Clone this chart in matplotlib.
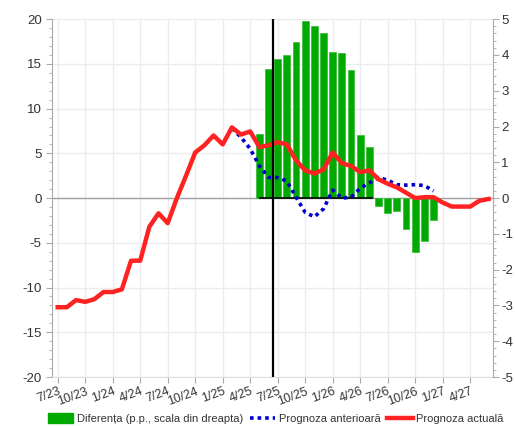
import matplotlib
matplotlib.use("Agg")
import matplotlib.pyplot as plt
from matplotlib.ticker import MultipleLocator
from matplotlib.patches import Patch
from matplotlib.lines import Line2D
import numpy as np

plt.rcParams['font.family'] = ['Liberation Sans', 'DejaVu Sans']
plt.rcParams['axes.unicode_minus'] = False

# Monthly series, month 0 = July 2023
quarter_labels = ['7/23', '10/23', '1/24', '4/24', '7/24', '10/24', '1/25', '4/25',
                  '7/25', '10/25', '1/26', '4/26', '7/26', '10/26', '1/27', '4/27']

current_forecast = [-12.2, -12.2, -11.4, -11.6, -11.3, -10.5, -10.5, -10.2, -7.0, -7.0,
                    -3.2, -1.7, -2.8, 0.0, 2.5, 5.1, 5.9, 7.0, 6.0, 7.9,
                    7.1, 7.45, 5.7, 5.9, 6.25, 6.0, 4.2, 3.1, 2.75, 3.2,
                    5.1, 3.9, 3.6, 2.9, 3.1, 2.1, 1.6, 1.2, 0.6, 0.0,
                    0.1, 0.1, -0.5, -0.95, -0.95, -0.95, -0.3, -0.1]

previous_start = 19
previous_forecast = [7.8, 6.8, 5.5, 3.6, 2.3, 2.3, 1.9, 0.1, -1.6, -2.1,
                     -1.2, 0.9, 0.0, 0.1, 1.1, 1.7, 2.3, 2.0, 1.5, 1.45,
                     1.5, 1.4, 0.8]

diff_start = 22
difference = [1.78, 3.6, 3.88, 4.0, 4.36, 4.94, 4.81, 4.6, 4.07, 4.05,
              3.57, 1.75, 1.43, -0.23, -0.43, -0.36, -0.87, -1.5, -1.21, -0.62]

current_month = 23.45

months_cur = np.arange(len(current_forecast))
months_prev = previous_start + np.arange(len(previous_forecast))
months_diff = diff_start + np.arange(len(difference))

GREEN = '#00aa00'
RED = '#ff2222'
BLUE = '#0000cc'
GRID = '#ececec'
AXCOL = '#aaaaaa'
TXT = '#333333'
XLIM = (-0.62, 47.47)
YLIM = (-20, 20)

fig = plt.figure(figsize=(5.15, 4.26), dpi=100)
# host axes: grid, zero line and left scale
ax = fig.add_axes([0.101, 0.115, 0.856, 0.840])
ax.set_xlim(*XLIM)
ax.set_ylim(*YLIM)
ax.yaxis.set_major_locator(MultipleLocator(5))
ax.yaxis.set_minor_locator(MultipleLocator(1))
ax.set_xticks(np.arange(len(quarter_labels)) * 3)
ax.set_xticklabels(quarter_labels, rotation=20, ha='right', rotation_mode='anchor')
ax.grid(True, color=GRID, linewidth=1.0, zorder=0)
ax.set_axisbelow(True)
ax.axhline(0, color='#a0a0a0', linewidth=1.0, zorder=1)

# right scale: difference bars
ax2 = ax.twinx()
ax2.set_ylim(-5, 5)
ax2.yaxis.set_major_locator(MultipleLocator(1))
ax2.yaxis.set_minor_locator(MultipleLocator(0.2))
bar_w = 0.74
ax2.bar(months_diff, difference, width=bar_w, color=GREEN, edgecolor='#33bb33',
        linewidth=0.5, zorder=2)
pos = [m for m, v in zip(months_diff, difference) if v > 0]
ax2.hlines(0, pos[0], pos[-1] + bar_w / 2, color='black', linewidth=1.2, zorder=3)

# overlay on the left scale: forecast lines above the bars
ax3 = ax.twinx()
ax3.set_ylim(*YLIM)
ax3.set_xlim(*XLIM)
ax3.axis('off')
ax3.plot(months_prev, previous_forecast, color=BLUE, linewidth=2.6,
         linestyle=(0, (1, 1.1)), dash_capstyle='butt', zorder=4)
ax3.plot(months_cur, current_forecast, color=RED, linewidth=3.2, zorder=5,
         solid_joinstyle='round')
ax3.axvline(current_month, color='black', linewidth=1.6, zorder=6)

for a in (ax, ax2):
    for s in a.spines.values():
        s.set_color(AXCOL)
    a.spines['top'].set_visible(False)
    a.tick_params(axis='both', which='major', length=4, color=AXCOL,
                  labelcolor=TXT, labelsize=9.5)
    a.tick_params(axis='both', which='minor', length=2.5, color=AXCOL)
ax.spines['bottom'].set_color('#dddddd')
ax2.spines['bottom'].set_visible(False)
ax.tick_params(axis='x', labelsize=9, pad=2)
ax2.tick_params(axis='y', pad=2)
ax2.spines['left'].set_visible(False)
ax.spines['right'].set_visible(False)

handles = [Patch(facecolor=GREEN, edgecolor=GREEN),
           Line2D([], [], color=BLUE, linewidth=2.6, linestyle=(0, (1, 1.1)), dash_capstyle='butt'),
           Line2D([], [], color=RED, linewidth=3.2)]
labels = ['Diferența (p.p., scala din dreapta)', 'Prognoza anterioară', 'Prognoza actuală']
fig.legend(handles, labels, loc='center', bbox_to_anchor=(0.535, 0.017), ncol=3,
           frameon=False, fontsize=8, handlelength=2.3, handleheight=1.0,
           handletextpad=0.3, columnspacing=0.6, labelcolor=TXT)

fig.savefig('out.png', dpi=100)
